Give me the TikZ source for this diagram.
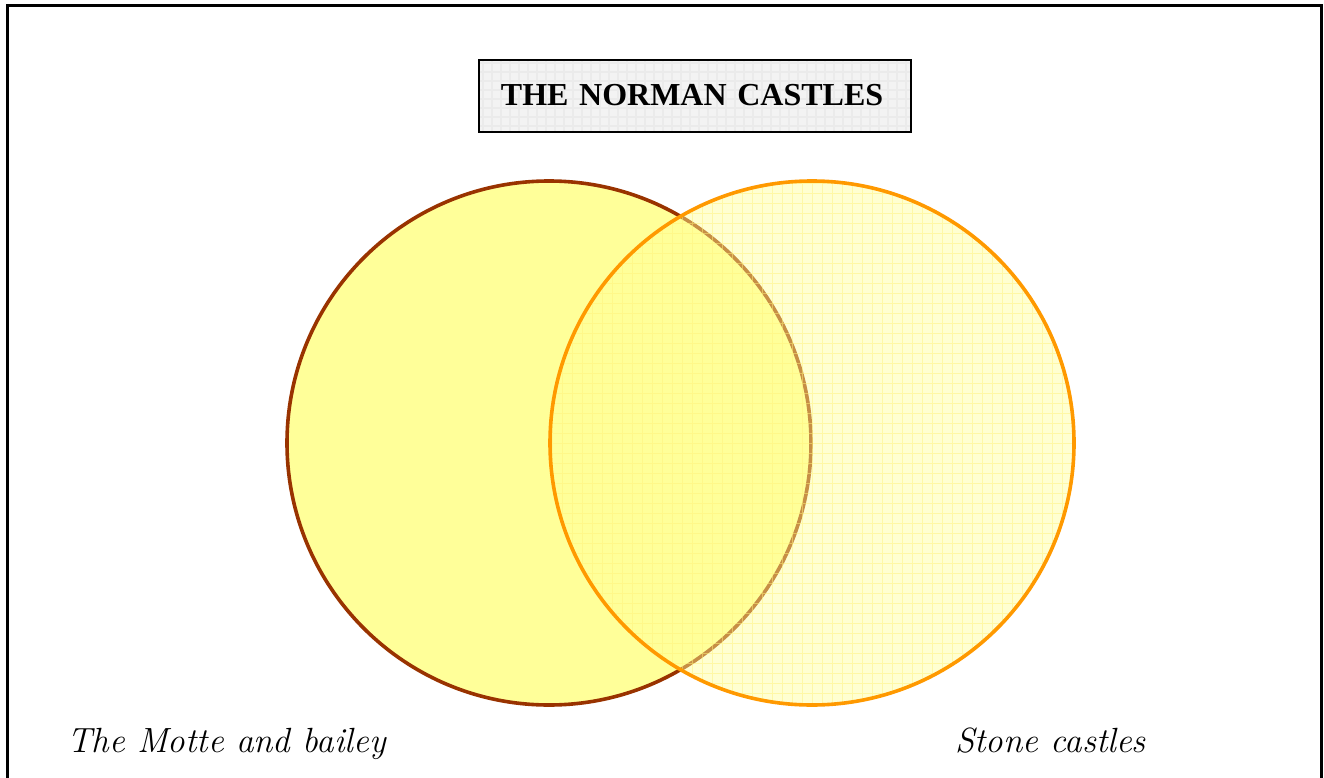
\documentclass[tikz,border=0pt]{standalone}
\usepackage{fontspec}
\newfontfamily\titlefont{Liberation Serif}
\usetikzlibrary{positioning}
\definecolor{mottebrown}{HTML}{993300}
\definecolor{stoneorange}{HTML}{FF9900}
\definecolor{castleyellow}{HTML}{FFFF99}
\definecolor{gridyellow}{HTML}{FFF27A}
\definecolor{titlegray}{HTML}{F3F3F3}

\begin{document}
\begin{tikzpicture}[x=1pt,y=-1pt]
\tikzset{
  titlebox/.style={draw,line width=1.8pt,fill=titlegray,minimum height=72pt,
    text width=388pt,align=left,inner xsep=22pt,font=\titlefont\bfseries\fontsize{32}{36}\selectfont,
    path picture={\draw[black!8,step=9pt] (path picture bounding box.south west) grid (path picture bounding box.north east);}},
  castle/.style={circle,minimum size=524pt,inner sep=0pt,line width=3.6pt},
  setlabel/.style={anchor=base west,inner sep=0pt,font=\itshape\fontsize{35}{40}\selectfont}
}
\useasboundingbox (0,0) rectangle (1324,778);
\draw[line width=3pt] (7,6) rectangle (1321,800);
\node[titlebox,anchor=west] (title) at (478,96) {\raisebox{3pt}{THE NORMAN CASTLES}};
\node[castle,draw=mottebrown,fill=castleyellow] (motte) at (549,443) {};
\node[castle,draw=stoneorange,fill=castleyellow,fill opacity=0.45,
  path picture={\draw[gridyellow,line width=0.6pt,draw opacity=0.5,step=10pt] (path picture bounding box.south west) grid (path picture bounding box.north east);}] (stone) at (812,443) {};
\node[setlabel] (mottelabel) at (67,752) {The Motte and bailey};
\node[setlabel] (stonelabel) at (955,752) {Stone castles};
\end{tikzpicture}
\end{document}
